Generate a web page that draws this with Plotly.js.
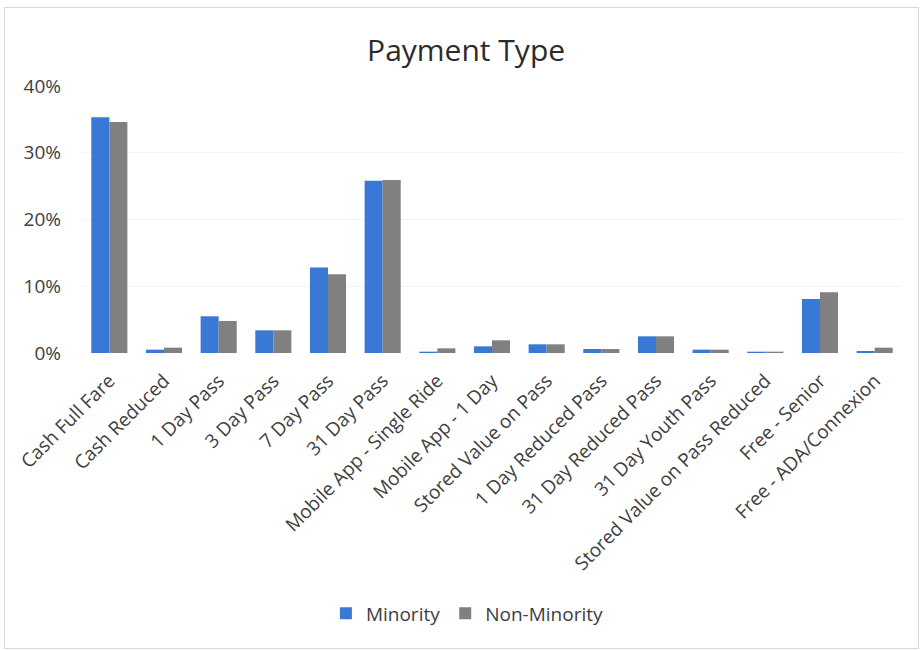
<!DOCTYPE html>
<html>
<head>
<meta charset="utf-8">
<script src="https://cdn.plot.ly/plotly-3.0.1.min.js"></script>
<style>
html,body{margin:0;padding:0;background:#fff;}
#wrap{position:relative;width:923px;height:651px;}
#chart{position:absolute;left:0;top:0;width:923px;height:651px;}
#frame{position:absolute;left:4px;top:7px;width:913px;height:640px;border:1px solid #d9d9d9;pointer-events:none;}
</style>
</head>
<body>
<div id="wrap"><div id="chart"></div><div id="frame"></div></div>
<script>
const categories = ["Cash Full Fare","Cash Reduced","1 Day Pass","3 Day Pass","7 Day Pass","31 Day Pass","Mobile App - Single Ride","Mobile App - 1 Day","Stored Value on Pass","1 Day Reduced Pass","31 Day Reduced Pass","31 Day Youth Pass","Stored Value on Pass Reduced","Free - Senior","Free - ADA/Connexion"];
const minority    = [0.353,0.005,0.055,0.034,0.128,0.258,0.002,0.010,0.013,0.006,0.025,0.005,0.002,0.081,0.003];
const nonMinority = [0.346,0.008,0.048,0.034,0.118,0.259,0.007,0.019,0.013,0.006,0.025,0.005,0.002,0.091,0.008];
const yTicks = [0,0.1,0.2,0.3,0.4];
const yTickText = ["0%","10%","20%","30%","40%"];

const font = "Open Sans, Noto Sans, sans-serif";
const data = [
  {type:"bar", name:"Minority", x:categories, y:minority, marker:{color:"#3a78d6"}},
  {type:"bar", name:"Non-Minority", x:categories, y:nonMinority, marker:{color:"#808080"}}
];
const layout = {
  width:923, height:651,
  paper_bgcolor:"#fff", plot_bgcolor:"#fff",
  margin:{l:82, r:21, t:86, b:298},
  title:{text:"Payment Type", font:{family:font, size:30, color:"#2b2b2b"}, x:0.505, xanchor:"center", y:0.923, yanchor:"middle"},
  barmode:"group", bargap:0.34, bargroupgap:0,
  xaxis:{type:"category", tickangle:-45, tickfont:{family:font, size:19, color:"#404040"}, showline:false, ticks:"", showgrid:false, automargin:false, ticklabelstandoff:12},
  yaxis:{range:[0,0.4], tickvals:yTicks, ticktext:yTickText, tickfont:{family:font, size:19, color:"#404040"}, showgrid:true, gridcolor:"#f3f3f3", zeroline:false, showline:false, ticks:"", ticklen:0, automargin:false, ticklabelstandoff:20},
  legend:{orientation:"h", x:0.47, xanchor:"center", y:-0.975, yanchor:"middle", font:{family:font, size:19, color:"#404040"}, itemwidth:30, traceorder:"normal"},
  showlegend:true
};
Plotly.newPlot("chart", data, layout, {displayModeBar:false, staticPlot:true});
</script>
</body>
</html>
